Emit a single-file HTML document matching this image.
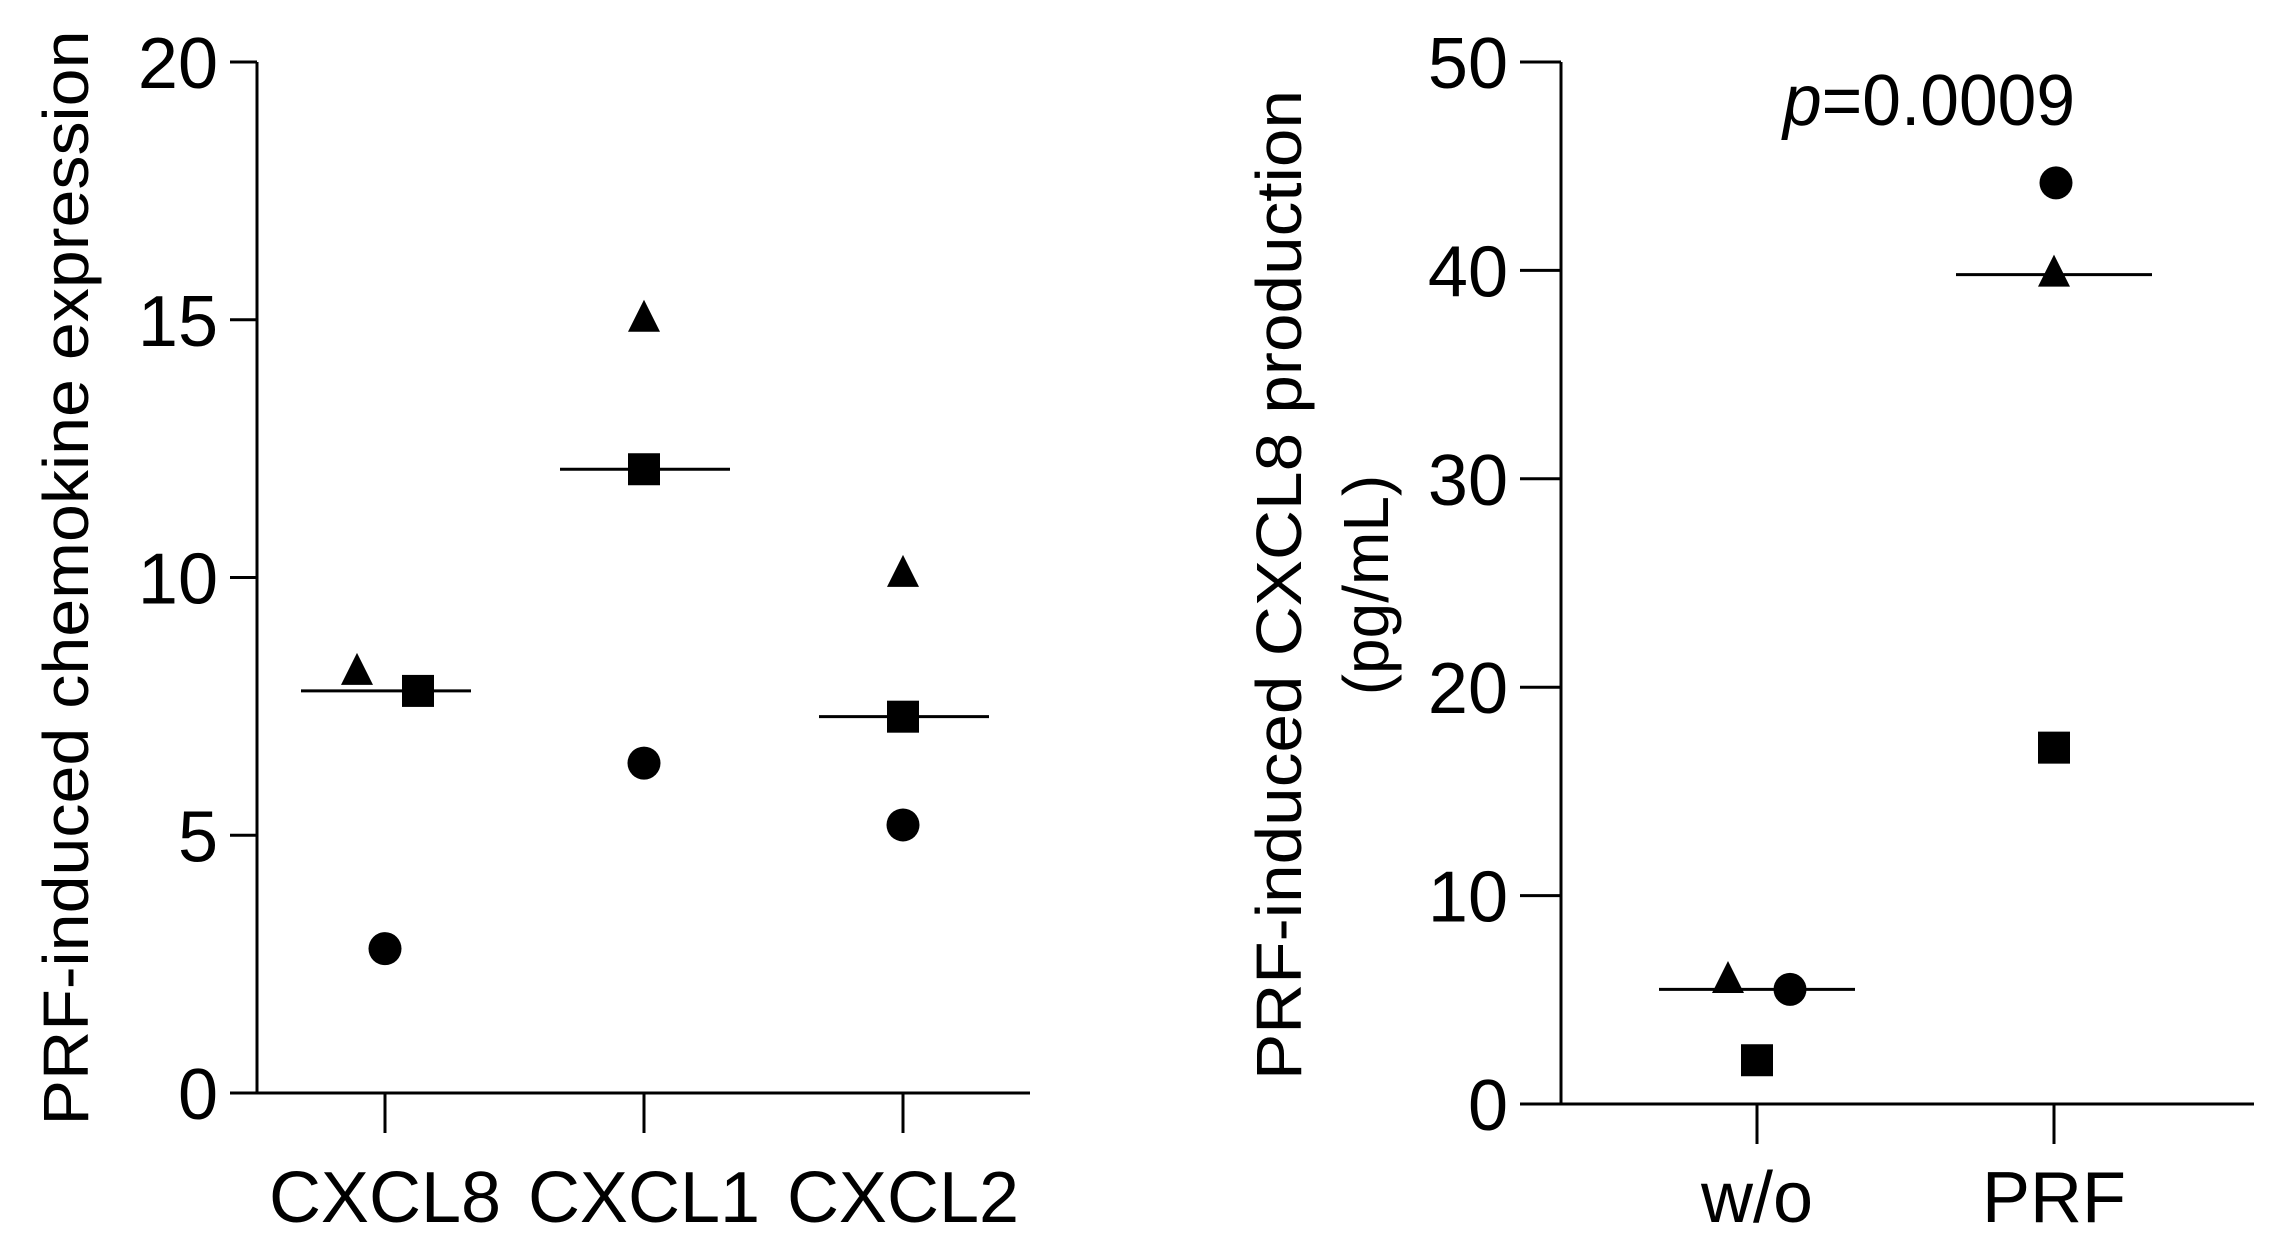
<!DOCTYPE html>
<html><head><meta charset="utf-8"><style>
html,body{margin:0;padding:0;background:#fff;}
svg{display:block;font-family:"Liberation Sans",Arial,sans-serif;}
</style></head><body>
<svg id="fig" width="2281" height="1246" viewBox="0 0 2281 1246" xmlns="http://www.w3.org/2000/svg">
<g id="left"></g>
<g id="right"></g>
</svg>
<script>
// Left chart data
const leftCategories = ["CXCL8","CXCL1","CXCL2"];
const leftCircle = [2.8, 6.4, 5.2];
const leftSquare = [7.8, 12.1, 7.3];
const leftTriangle = [8.15, 15.0, 10.05];
const leftMedian = [7.8, 12.1, 7.3];
const leftTicks = [0,5,10,15,20];
// Right chart data
const rightCategories = ["w/o","PRF"];
const rightCircle = [5.5, 44.2];
const rightSquare = [2.1, 17.1];
const rightTriangle = [5.9, 39.8];
const rightMedian = [5.5, 39.8];
const rightTicks = [0,10,20,30,40,50];

const NS="http://www.w3.org/2000/svg";
function mk(parent,tag,attrs,text){
  const e=document.createElementNS(NS,tag);
  for(const k in attrs) e.setAttribute(k,attrs[k]);
  if(text!==undefined) e.textContent=text;
  parent.appendChild(e); return e;
}
function drawChart(g,cfg){
  const y=v=>cfg.y0-(v/cfg.ymax)*(cfg.y0-cfg.ytop);
  const x=i=>cfg.catX[i];
  const ya=mk(g,'line',{x1:cfg.ax,y1:cfg.ytop,x2:cfg.ax,y2:cfg.y0+1.5,stroke:'#000','stroke-width':3});
  
  
  const xa=mk(g,'line',{x1:cfg.tickL,y1:cfg.y0,x2:cfg.xend,y2:cfg.y0,stroke:'#000','stroke-width':3});
  
  
  cfg.ticks.forEach(t=>{
    const yy=y(t);
    if(t!==0){
      const l=mk(g,'line',{x1:cfg.tickL,y1:yy,x2:cfg.ax,y2:yy,stroke:'#000','stroke-width':3});
      
      
    }
    const tx=mk(g,'text',{x:cfg.tickL-12,y:yy+26,'font-size':72,'text-anchor':'end'},String(t));
    
    
  });
  cfg.cats.forEach((c,i)=>{
    const l=mk(g,'line',{x1:x(i),y1:cfg.y0,x2:x(i),y2:cfg.y0+40,stroke:'#000','stroke-width':3});
    
    
    const tx=mk(g,'text',{x:x(i),y:1222,'font-size':72,'text-anchor':'middle'},c);
    
    
    const my=y(cfg.med[i]);
    const m=mk(g,'line',{x1:x(i)+cfg.medL[0],y1:my,x2:x(i)+cfg.medL[1],y2:my,stroke:'#000','stroke-width':3});
    
    
    const cy=y(cfg.circ[i]);
    const ci=mk(g,'circle',{cx:x(i)+cfg.off.c[i],cy:cy,r:16.5,fill:'#000'});
    
    
    const sy=y(cfg.sq[i]);
    const sq=mk(g,'rect',{x:x(i)+cfg.off.s[i]-16,y:sy-16,width:32,height:32,fill:'#000'});
    
    
    const ty=y(cfg.tri[i]); const tx0=x(i)+cfg.off.t[i];
    const tr=mk(g,'polygon',{points:`${tx0},${ty-20} ${tx0-16},${ty+12} ${tx0+16},${ty+12}`,fill:'#000'});
    
    
  });
}
const L=document.getElementById('left');
drawChart(L,{ax:257,ytop:62,y0:1093,ymax:20,tickL:230,xend:1030,catX:[385,644,903],ticks:leftTicks,
  cats:leftCategories,med:leftMedian,circ:leftCircle,sq:leftSquare,tri:leftTriangle,medL:[-84,86],
  off:{c:[0,0,0],s:[33,0,0],t:[-28,0,0]}});
const lt=mk(L,'text',{x:0,y:0,'font-size':64,'text-anchor':'middle',transform:'translate(88,578) rotate(-90)',textLength:1095,lengthAdjust:'spacingAndGlyphs'},'PRF-induced chemokine expression');



const R=document.getElementById('right');
drawChart(R,{ax:1561,ytop:62,y0:1104,ymax:50,tickL:1520,xend:2254,catX:[1757,2054],ticks:rightTicks,
  cats:rightCategories,med:rightMedian,circ:rightCircle,sq:rightSquare,tri:rightTriangle,medL:[-98,98],
  off:{c:[33,2],s:[0,0],t:[-29,0]}});
const rt1=mk(R,'text',{x:0,y:0,'font-size':64,'text-anchor':'middle',transform:'translate(1301,585) rotate(-90)',textLength:990,lengthAdjust:'spacingAndGlyphs'},'PRF-induced CXCL8 production');


const rt2=mk(R,'text',{x:0,y:0,'font-size':64,'text-anchor':'middle',transform:'translate(1388,585) rotate(-90)'},'(pg/mL)');


const pt=mk(R,'text',{x:1783,y:125,'font-size':72,textLength:292,lengthAdjust:'spacingAndGlyphs'});


mk(pt,'tspan',{'font-style':'italic'},'p');
mk(pt,'tspan',{},'=0.0009');
</script>
</body></html>
